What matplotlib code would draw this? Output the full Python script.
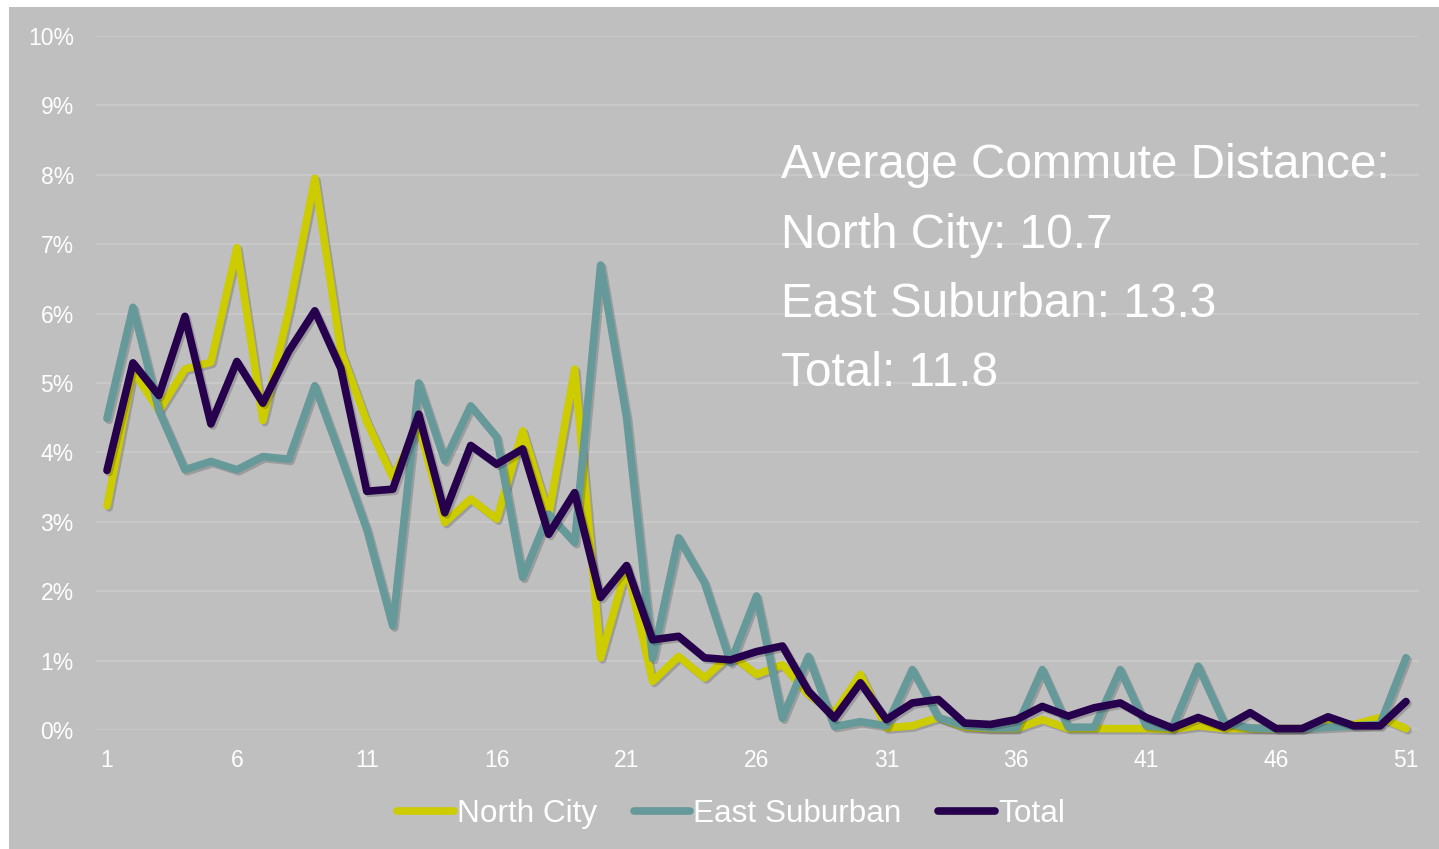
import matplotlib
matplotlib.use('Agg')
import matplotlib.pyplot as plt
import matplotlib.ticker as mticker
import matplotlib.patheffects as pe
from matplotlib.patches import Rectangle

# share of commuters by distance (miles), in percent
distancias = list(range(1, 52))
north_city = [3.23, 5.18, 4.60, 5.20, 5.30, 6.95, 4.46, 6.05, 7.95, 5.46,
              4.44, 3.64, 4.38, 2.99, 3.33, 3.04, 4.31, 3.10, 5.20, 1.04,
              2.35, 0.70, 1.06, 0.75, 1.09, 0.80, 0.94, 0.51, 0.25, 0.80,
              0.03, 0.06, 0.18, 0.04, 0.02, 0.02, 0.15, 0.02, 0.02, 0.02,
              0.02, 0.01, 0.06, 0.02, 0.02, 0.02, 0.02, 0.10, 0.08, 0.18, 0.02]
east_suburban = [4.49, 6.09, 4.60, 3.75, 3.87, 3.75, 3.94, 3.90, 4.96, 3.94,
                 2.89, 1.50, 5.00, 3.88, 4.67, 4.22, 2.20, 3.11, 2.70, 6.70,
                 4.50, 1.03, 2.77, 2.12, 0.97, 1.93, 0.17, 1.06, 0.05, 0.12,
                 0.06, 0.87, 0.18, 0.06, 0.03, 0.03, 0.87, 0.04, 0.04, 0.87,
                 0.06, 0.03, 0.92, 0.10, 0.03, 0.02, 0.02, 0.04, 0.06, 0.08, 1.04]
total = [3.74, 5.29, 4.82, 5.96, 4.41, 5.31, 4.71, 5.46, 6.04, 5.21,
         3.44, 3.47, 4.55, 3.13, 4.10, 3.83, 4.05, 2.82, 3.42, 1.91,
         2.37, 1.30, 1.35, 1.04, 1.01, 1.13, 1.21, 0.56, 0.17, 0.68,
         0.15, 0.39, 0.44, 0.10, 0.08, 0.15, 0.34, 0.20, 0.32, 0.39,
         0.18, 0.03, 0.18, 0.04, 0.25, 0.02, 0.02, 0.19, 0.06, 0.06, 0.41]

series_nomes = ["North City", "East Suburban", "Total"]
medias = ["10.7", "13.3", "11.8"]
cores = ["#cccc00", "#669999", "#26004d"]
xticks = list(range(1, 52, 5))

plt.rcParams['font.family'] = ['Liberation Sans', 'DejaVu Sans']

W, H = 1439, 849
fig = plt.figure(figsize=(W / 100, H / 100), dpi=100)
fig.patch.set_facecolor("white")
fundo = "#bfbfbf"
fig.patches.append(Rectangle((9 / W, 0), 1 - 9 / W, 1 - 7 / H, transform=fig.transFigure,
                             facecolor=fundo, edgecolor="none", zorder=-5))

ax = fig.add_axes([96 / W, 1 - 730 / H, (1419 - 96) / W, (730 - 36) / H])
ax.set_facecolor("none")
ax.set_zorder(2)

sombra = [pe.SimpleLineShadow(offset=(1.5, -1.5), shadow_color="black", alpha=0.18), pe.Normal()]
for valores, nome, cor in zip([north_city, east_suburban, total], series_nomes, cores):
    ax.plot(distancias, valores, color=cor, linewidth=5.5, label=nome,
            solid_joinstyle="round", solid_capstyle="round", clip_on=False,
            path_effects=sombra)

ax.set_ylim(0, 10)
ax.set_xlim(1 - 11 / 26, 51 + 13 / 26)
ax.set_yticks(range(0, 11))
ax.yaxis.set_major_formatter(mticker.PercentFormatter(xmax=100, decimals=0))
ax.set_xticks(xticks)
ax.tick_params(colors="white", labelsize=16.5, length=0)
ax.tick_params(axis="y", pad=16)
ax.tick_params(axis="x", pad=14)
ax.grid(axis="y", color="#c9c9c9", linewidth=1.3)
ax.set_axisbelow(True)
for spine in ax.spines.values():
    spine.set_visible(False)

# average commute distance box
linhas = ["Average Commute Distance:"] + [f"{n}: {m}" for n, m in zip(series_nomes, medias)]
for k, txt in enumerate(linhas):
    fig.text(781 / W, 1 - (178 + k * 69.5) / H, txt, color="white", fontsize=34.4,
             ha="left", va="baseline", zorder=3)

leg = fig.legend(loc="center", bbox_to_anchor=(731 / W, 1 - 814 / H), ncol=3, frameon=False,
                 fontsize=22.7, handlelength=1.8, handletextpad=0.1, columnspacing=1.15)
for t in leg.get_texts():
    t.set_color("white")
for h in leg.get_lines():
    h.set_path_effects([])
    h.set_solid_capstyle("round")

fig.savefig("out.png", dpi=100, facecolor=fig.get_facecolor())
